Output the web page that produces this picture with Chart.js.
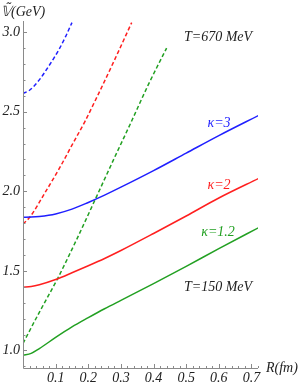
<!DOCTYPE html>
<html>
<head>
<meta charset="utf-8">
<script src="https://cdn.jsdelivr.net/npm/chart.js@4/dist/chart.umd.min.js"></script>
<style>
  html,body{margin:0;padding:0;background:#fff;}
  #wrap{width:300px;height:385px;}
</style>
</head>
<body>
<div id="wrap"><canvas id="c" width="300" height="385"></canvas></div>
<script>
// ═══════════ DATA ═══════════
// solid curves (T=150 MeV)
const rSolid=[0,0.025,0.05,0.1,0.15,0.2,0.25,0.3,0.4,0.5,0.6,0.725];
const k3Solid=[1.837,1.838,1.842,1.858,1.888,1.930,1.976,2.026,2.13,2.24,2.35,2.48];
const k2Solid=[1.398,1.402,1.413,1.446,1.488,1.532,1.578,1.628,1.735,1.845,1.958,2.084];
const k12Solid=[0.97,0.982,1.012,1.082,1.148,1.206,1.262,1.315,1.42,1.528,1.64,1.775];

// dashed curves (T=670 MeV)
const rDashK3=[0,0.02,0.05,0.08,0.11,0.13,0.15];
const k3Dash=[2.615,2.635,2.70,2.79,2.89,2.97,3.06];
const rDashK2=[0,0.02,0.067,0.113,0.15,0.19,0.226,0.277,0.333];
const k2Dash=[1.795,1.835,1.99,2.15,2.29,2.44,2.59,2.81,3.06];
const rDashK12=[0,0.05,0.108,0.165,0.226,0.28,0.328,0.384,0.44];
const k12Dash=[1.045,1.24,1.46,1.70,1.97,2.21,2.42,2.67,2.90];

const xTicks=[0.1,0.2,0.3,0.4,0.5,0.6,0.7];
const yTicks=[1.0,1.5,2.0,2.5,3.0];

const BLUE='#1f1fff',RED='#ff1f1f',GREEN='#22a022';
const serif='"Liberation Serif","DejaVu Serif",serif';

const pts=(xs,ys)=>xs.map((x,i)=>({x:x,y:ys[i]}));
function line(xs,ys,color,dashed){
  return {
    data:pts(xs,ys),showLine:true,borderColor:color,backgroundColor:color,
    borderWidth:1.5,pointRadius:0,tension:0.4,cubicInterpolationMode:'monotone',
    borderDash:dashed?[4,2.5]:[]
  };
}

// axes + inward ticks + annotations
const decor={
  id:'decor',
  afterDraw(chart){
    const ctx=chart.ctx,a=chart.chartArea,xs=chart.scales.x,ys=chart.scales.y;
    ctx.save();
    ctx.strokeStyle='#8a8a8a';ctx.lineWidth=1;
    ctx.beginPath();
    ctx.moveTo(a.left+0.5,a.top);ctx.lineTo(a.left+0.5,a.bottom+0.5);
    ctx.lineTo(a.right,a.bottom+0.5);
    // y ticks every 0.1
    for(let i=9;i<=30;i++){
      const py=Math.round(ys.getPixelForValue(i/10))+0.5;
      const len=i%5===0?4:2.5;
      ctx.moveTo(a.left,py);ctx.lineTo(a.left+len,py);
    }
    // x ticks every 0.02
    for(let i=0;i<=36;i++){
      const px=Math.round(xs.getPixelForValue(i/50))+0.5;
      const len=i%5===0?4:2;
      ctx.moveTo(px,a.bottom);ctx.lineTo(px,a.bottom-len);
    }
    ctx.stroke();

    ctx.font='italic 14px '+serif;
    ctx.textBaseline='middle';ctx.textAlign='center';
    const txt=(s,x,y,c)=>{ctx.fillStyle=c;ctx.fillText(s,x,y);};
    txt('T=670 MeV',218,37,'#222');
    txt('κ=3',219,123,BLUE);
    txt('κ=2',219,185,RED);
    txt('κ=1.2',218,232,GREEN);
    txt('T=150 MeV',218,287,'#222');
    ctx.textAlign='left';
    txt('R(fm)',266,368,'#222');
    txt('\u{1D54D}\u0303(GeV)',1,12,'#222');
    ctx.restore();
  }
};

new Chart(document.getElementById('c'),{
  type:'scatter',
  data:{datasets:[
    line(rSolid,k3Solid,BLUE,false),
    line(rSolid,k2Solid,RED,false),
    line(rSolid,k12Solid,GREEN,false),
    line(rDashK3,k3Dash,BLUE,true),
    line(rDashK2,k2Dash,RED,true),
    line(rDashK12,k12Dash,GREEN,true)
  ]},
  options:{
    responsive:false,animation:false,devicePixelRatio:1,
    layout:{padding:{top:21,right:42,left:0,bottom:0}},
    plugins:{legend:{display:false},tooltip:{enabled:false}},
    scales:{
      x:{
        type:'linear',min:0,max:0.72,
        grid:{display:false,drawTicks:false},border:{display:false},
        afterBuildTicks:s=>{s.ticks=xTicks.map(v=>({value:v}));},
        afterFit:s=>{s.height=17;},
        ticks:{autoSkip:false,maxRotation:0,padding:2,color:'#222',
          font:{family:serif,style:'italic',size:14},
          callback:v=>v.toFixed(1)}
      },
      y:{
        type:'linear',min:0.89,max:3.07,
        grid:{display:false,drawTicks:false},border:{display:false},
        afterBuildTicks:s=>{s.ticks=yTicks.map(v=>({value:v}));},
        afterFit:s=>{s.width=23;},
        ticks:{autoSkip:false,padding:3,color:'#222',
          font:{family:serif,style:'italic',size:14},
          callback:v=>v.toFixed(1)}
      }
    }
  },
  plugins:[decor]
});
</script>
</body>
</html>
